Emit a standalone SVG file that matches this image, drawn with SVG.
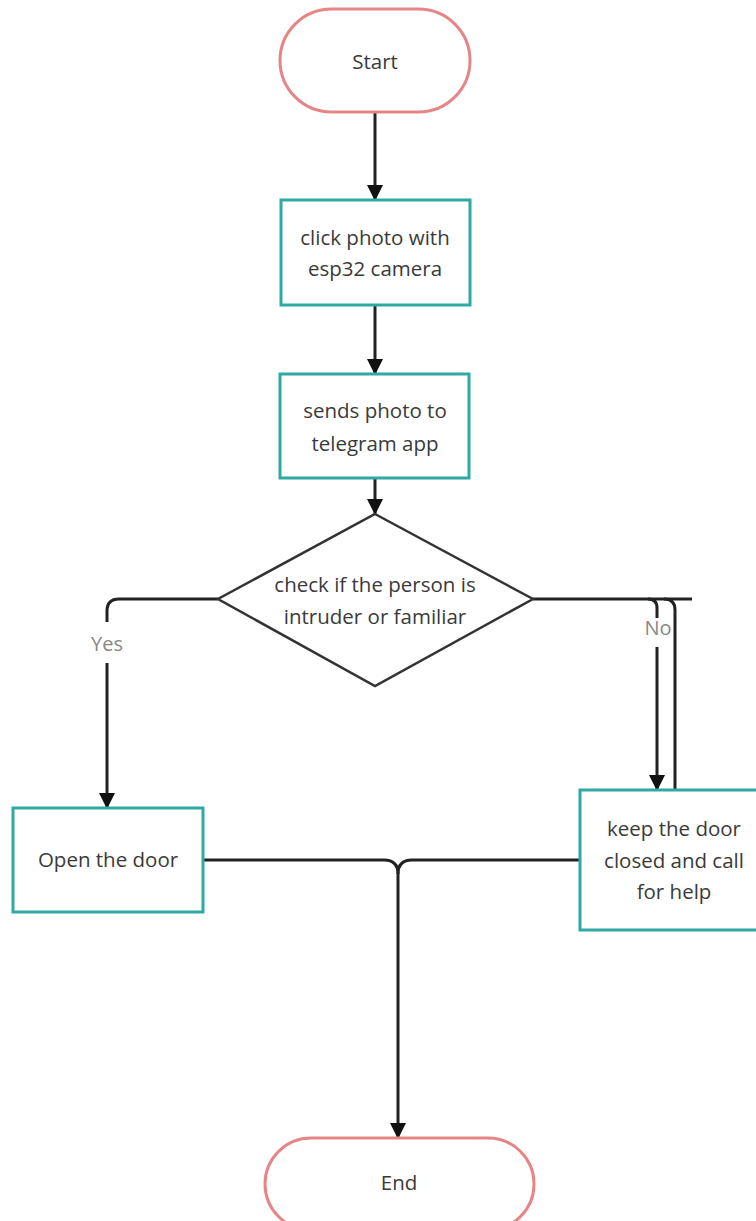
<svg xmlns="http://www.w3.org/2000/svg" width="756" height="1221" viewBox="0 0 756 1221">
<style>
.term{fill:#fff;stroke:#e58585;stroke-width:3}
.proc{fill:#fff;stroke:#2fa9a3;stroke-width:3}
.dec{fill:#fff;stroke:#333;stroke-width:2.5}
.t{font-family:"Open Sans","Liberation Sans",sans-serif;font-size:20.5px;fill:#3a3a3a;text-anchor:middle}
.lbl{font-family:"Open Sans","Liberation Sans",sans-serif;font-size:20px;fill:#888;text-anchor:middle}
.ln{fill:none;stroke:#222;stroke-width:3}
</style>
<defs>
<marker id="ah" markerUnits="userSpaceOnUse" markerWidth="16" markerHeight="16" refX="15" refY="8" orient="auto">
<path d="M0,0 L16,8 L0,16 z" fill="#111"/>
</marker>
</defs>
<rect width="756" height="1221" fill="#fff"/>
<g id="connectors">
<path class="ln" d="M375,113 V200" marker-end="url(#ah)"/>
<path class="ln" d="M375,305 V374" marker-end="url(#ah)"/>
<path class="ln" d="M375,478 V514" marker-end="url(#ah)"/>
<path class="ln" d="M218,599 H119 Q107,599 107,611 V622"/>
<path class="ln" d="M107,663 V808" marker-end="url(#ah)"/>
<path class="ln" d="M533,599 H692"/>
<path class="ln" d="M648,599 Q657,599 657,608 V618"/>
<path class="ln" d="M657,647 V790" marker-end="url(#ah)"/>
<path class="ln" d="M664,599 Q675,599 675,610 V790"/>
<path class="ln" d="M203,860 H384 Q398,860 398,874"/>
<path class="ln" d="M580,860 H412 Q398,860 398,874 V1138" marker-end="url(#ah)"/>
<text class="lbl" x="107" y="651">Yes</text>
<text class="lbl" x="658" y="635">No</text>
</g>
<g id="start">
<rect class="term" x="280" y="9" width="190" height="103" rx="51.5"/>
<text class="t" x="375" y="69">Start</text>
</g>
<g id="photo">
<rect class="proc" x="281" y="200" width="189" height="105"/>
<text class="t" x="375" y="245">click photo with</text>
<text class="t" x="375" y="276">esp32 camera</text>
</g>
<g id="send">
<rect class="proc" x="280" y="374" width="189" height="104"/>
<text class="t" x="375" y="418">sends photo to</text>
<text class="t" x="375" y="451">telegram app</text>
</g>
<g id="check">
<polygon class="dec" points="375,514 533,599 375,686 218,599"/>
<text class="t" x="375" y="592">check if the person is</text>
<text class="t" x="375" y="624">intruder or familiar</text>
</g>
<g id="open">
<rect class="proc" x="13" y="808" width="190" height="104"/>
<text class="t" x="108" y="867">Open the door</text>
</g>
<g id="keep">
<rect class="proc" x="580" y="790" width="190" height="140"/>
<text class="t" x="674" y="836">keep the door</text>
<text class="t" x="674" y="868">closed and call</text>
<text class="t" x="674" y="899">for help</text>
</g>
<g id="end">
<rect class="term" x="265" y="1138" width="269" height="92" rx="46"/>
<text class="t" x="399" y="1190">End</text>
</g>
</svg>
